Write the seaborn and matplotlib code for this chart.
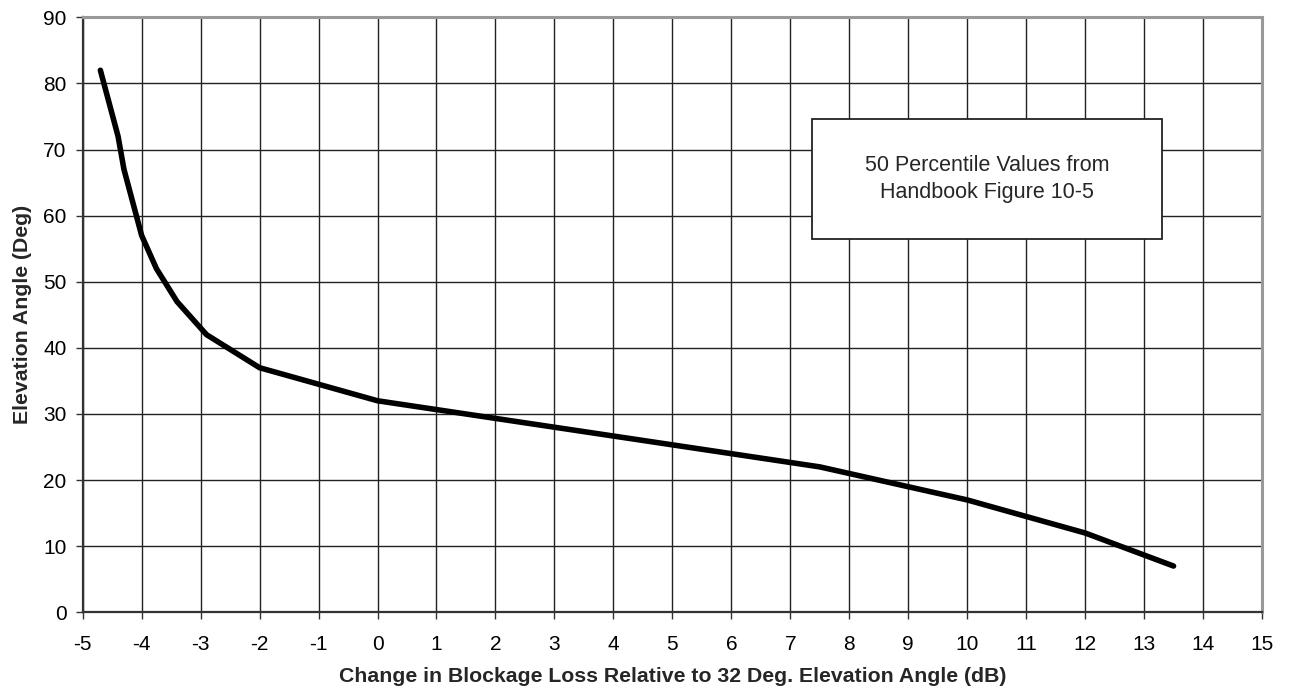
import matplotlib
matplotlib.use("Agg")
import matplotlib.pyplot as plt
from matplotlib.patches import Rectangle
import seaborn as sns
import pandas as pd

# Elevation angle vs. change in blockage loss (50th percentile curve)
loss_change_db = [-4.7, -4.4, -4.3, -4.0, -3.75, -3.4, -2.9, -2.0, 0.0, 7.5, 10.0, 12.0, 13.5]
elevation_deg = [82, 72, 67, 57, 52, 47, 42, 37, 32, 22, 17, 12, 7]

x_ticks = list(range(-5, 16))
y_ticks = list(range(0, 91, 10))

sns.set_style("white")
plt.rcParams["font.family"] = ["Liberation Sans", "DejaVu Sans"]

df = pd.DataFrame({"loss": loss_change_db, "elev": elevation_deg})

fig = plt.figure(figsize=(12.9, 6.94), dpi=100)
ax = fig.add_axes([0.0641, 0.1177, 0.9142, 0.8573])

sns.lineplot(data=df, x="loss", y="elev", ax=ax, color="black",
             linewidth=4.0, sort=False, solid_capstyle="round",
             solid_joinstyle="round", zorder=3)

ax.set_xlim(-5, 15)
ax.set_ylim(0, 90)
ax.set_xticks(x_ticks)
ax.set_yticks(y_ticks)
ax.set_xticklabels([str(v) for v in x_ticks])
ax.set_yticklabels([str(v) for v in y_ticks])

ax.grid(True, color="#222222", linewidth=1.0, zorder=1)
ax.set_axisbelow(True)

ax.tick_params(axis="both", direction="out", length=5, width=1.0,
               color="#333333", labelsize=15, labelcolor="black",
               bottom=True, left=True)
ax.tick_params(axis="x", pad=11)
ax.tick_params(axis="y", pad=6.5)

for side in ("left", "bottom"):
    ax.spines[side].set_color("#333333")
    ax.spines[side].set_linewidth(1.6)
for side in ("top", "right"):
    ax.spines[side].set_color("#999999")
    ax.spines[side].set_linewidth(2.2)

ax.set_xlabel("Change in Blockage Loss Relative to 32 Deg. Elevation Angle (dB)",
              fontsize=15.3, fontweight="bold", labelpad=10)
ax.set_ylabel("Elevation Angle (Deg)", fontsize=15.3, fontweight="bold", labelpad=8)

# outlined note box
ax.add_patch(Rectangle((0.618, 0.628), 0.2975, 0.201, transform=ax.transAxes,
                       facecolor="white", edgecolor="#222222", linewidth=1.3,
                       zorder=4))
ax.text(0.767, 0.728, "50 Percentile Values from\nHandbook Figure 10-5",
        transform=ax.transAxes, ha="center", va="center", fontsize=15.5,
        linespacing=1.38, zorder=5)

fig.savefig("out.png", dpi=100, facecolor="white")
